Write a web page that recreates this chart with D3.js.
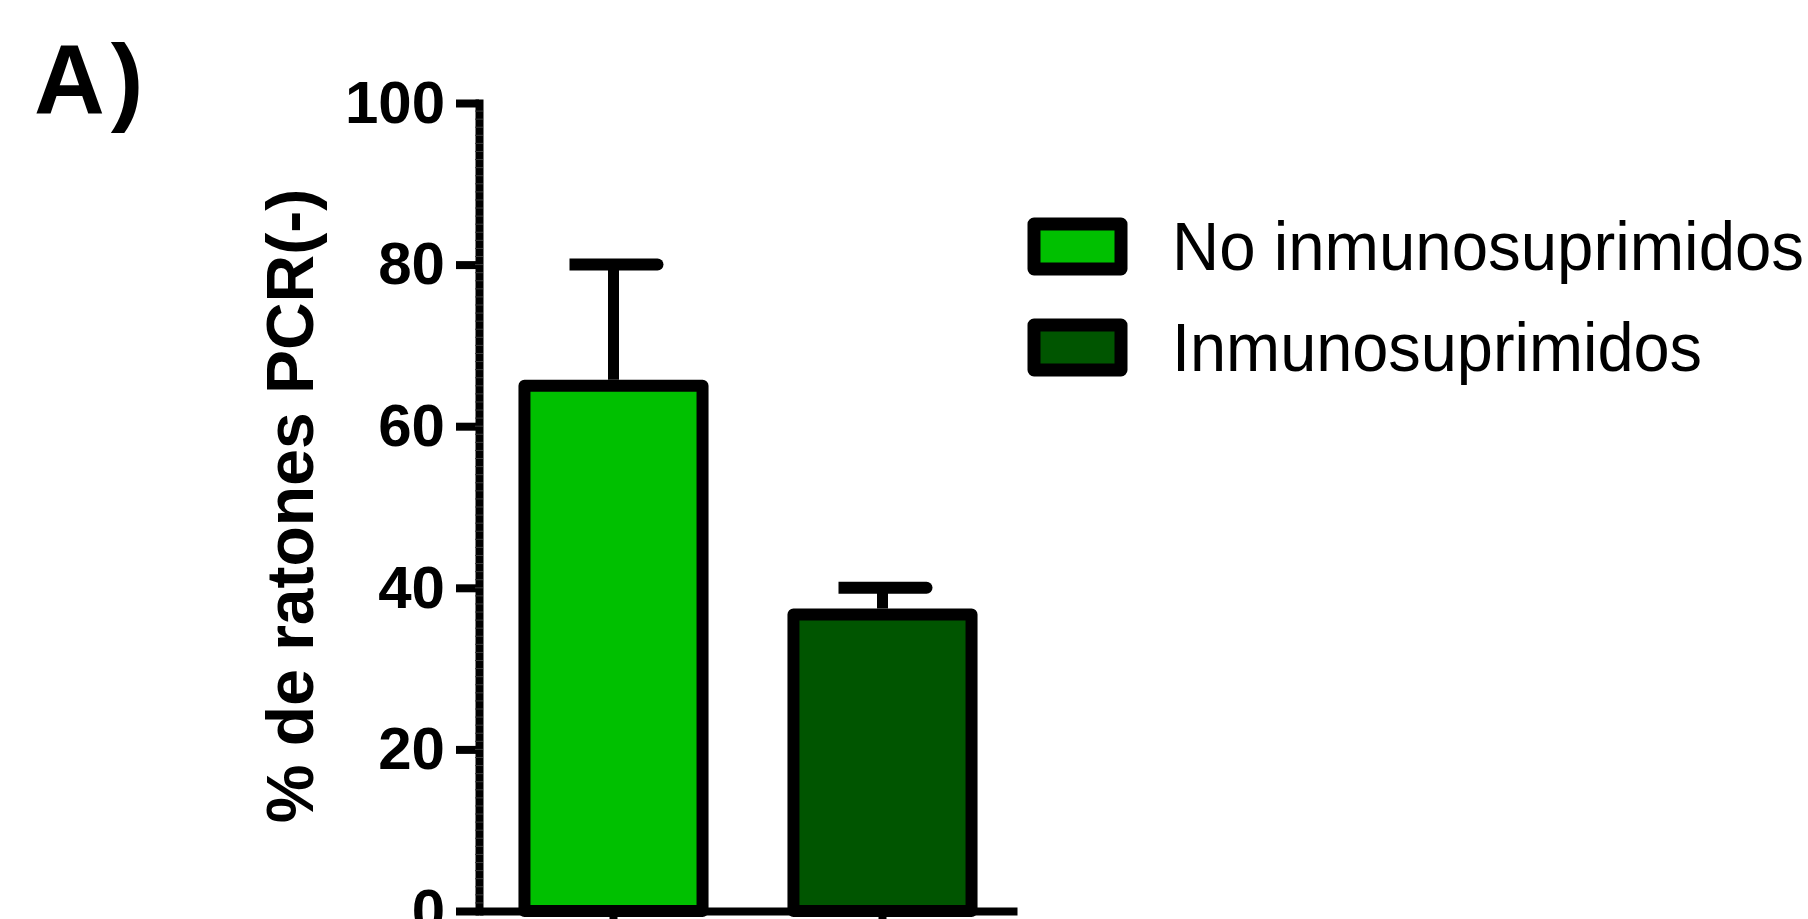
<!DOCTYPE html>
<html>
<head>
<meta charset="utf-8">
<script src="https://cdn.jsdelivr.net/npm/d3@7"></script>
<style>
  body { margin: 0; background: #fff; }
  svg { display: block; }
  text { font-family: "Liberation Sans", Arial, sans-serif; }
</style>
</head>
<body>
<div id="chart"></div>
<script>
// data
var groups = ["No inmunosuprimidos", "Inmunosuprimidos"];
var means = [65, 36.7];
var errUp = [80, 40];
var barColors = ["#00c000", "#005500"];
var yTicks = [0, 20, 40, 60, 80, 100];

var W = 1808, H = 919;

var svg = d3.select("#chart")
  .append("svg")
    .attr("width", W)
    .attr("height", H);

// scales
var y = d3.scaleLinear()
    .domain([0, 100])
    .range([911, 103]);

var x = d3.scaleBand()
    .domain(groups)
    .range([479, 1017])
    .paddingInner(0.338)
    .paddingOuter(0.169);

// panel letter
svg.append("text")
    .attr("x", 34)
    .attr("y", 113)
    .style("font-size", "98px")
    .style("font-weight", "bold")
    .style("letter-spacing", "6px")
    .text("A)");

// bars
svg.selectAll(".bar")
  .data(groups)
  .enter()
  .append("rect")
    .attr("class", "bar")
    .attr("x", function(d) { return x(d); })
    .attr("y", function(d, i) { return y(means[i]); })
    .attr("width", x.bandwidth())
    .attr("height", function(d, i) { return y(0) - y(means[i]); })
    .attr("fill", function(d, i) { return barColors[i]; })
    .attr("stroke", "#000")
    .attr("stroke-width", 12)
    .attr("stroke-linejoin", "round");

// error bars (upper only)
var eb = svg.selectAll(".err")
  .data(groups)
  .enter()
  .append("g")
    .attr("class", "err");

eb.append("line")
    .attr("x1", function(d) { return x(d) + x.bandwidth() / 2; })
    .attr("x2", function(d) { return x(d) + x.bandwidth() / 2; })
    .attr("y1", function(d, i) { return y(means[i]) - 6; })
    .attr("y2", function(d, i) { return y(errUp[i]); })
    .attr("stroke", "#000")
    .attr("stroke-width", 11);

// cap: square left end, rounded right end
eb.append("path")
    .attr("d", function(d, i) {
      var c = x(d) + x.bandwidth() / 2, yy = y(errUp[i]);
      return "M" + (c - 44) + "," + (yy - 6) + "H" + (c + 44) +
             "A6,6 0 0 1 " + (c + 44) + "," + (yy + 6) + "H" + (c - 44) + "Z";
    })
    .attr("fill", "#000");

// y axis
var yAxis = svg.append("g")
    .attr("transform", "translate(479,0)")
    .call(d3.axisLeft(y).tickValues(yTicks).tickSize(23).tickSizeOuter(0).tickPadding(11));
yAxis.select(".domain")
    .attr("stroke", "#000")
    .attr("stroke-width", 8)
    .attr("stroke-linecap", "square");
yAxis.selectAll(".tick line")
    .attr("stroke", "#000")
    .attr("stroke-width", 8);
yAxis.selectAll(".tick text")
    .attr("fill", "#000")
    .style("font-family", "'Liberation Sans', Arial, sans-serif")
    .style("font-size", "60px")
    .style("font-weight", "bold");

// faint minor ticks inside the thick axis line
svg.append("g")
  .selectAll("line")
  .data(d3.range(1, 100))
  .enter()
  .append("line")
    .attr("x1", 475)
    .attr("x2", 483)
    .attr("y1", function(d) { return y(d); })
    .attr("y2", function(d) { return y(d); })
    .attr("stroke", "#3a3a3a")
    .attr("stroke-width", 1);

// x axis
var xAxis = svg.append("g")
    .attr("transform", "translate(0,911)")
    .call(d3.axisBottom(x).tickSize(22).tickSizeOuter(0).tickFormat(""));
xAxis.select(".domain")
    .attr("stroke", "#000")
    .attr("stroke-width", 8);
xAxis.selectAll(".tick line")
    .attr("stroke", "#000")
    .attr("stroke-width", 8);

// y axis title
svg.append("text")
    .attr("transform", "rotate(-90)")
    .attr("x", -506)
    .attr("y", 313)
    .attr("text-anchor", "middle")
    .style("font-size", "66px")
    .style("font-weight", "bold")
    .text("% de ratones PCR(-)");

// legend
var legendTop = [224, 325];
var legendTextW = [632, 530];
var legend = svg.selectAll(".legend")
  .data(groups)
  .enter()
  .append("g")
    .attr("class", "legend");

legend.append("rect")
    .attr("x", 1034)
    .attr("y", function(d, i) { return legendTop[i]; })
    .attr("width", 87)
    .attr("height", 45)
    .attr("fill", function(d, i) { return barColors[i]; })
    .attr("stroke", "#000")
    .attr("stroke-width", 13)
    .attr("stroke-linejoin", "round");

legend.append("text")
    .attr("x", 1172)
    .attr("y", function(d, i) { return legendTop[i] + 46; })
    .attr("textLength", function(d, i) { return legendTextW[i]; })
    .attr("lengthAdjust", "spacingAndGlyphs")
    .style("font-size", "68px")
    .text(function(d) { return d; });
</script>
</body>
</html>
